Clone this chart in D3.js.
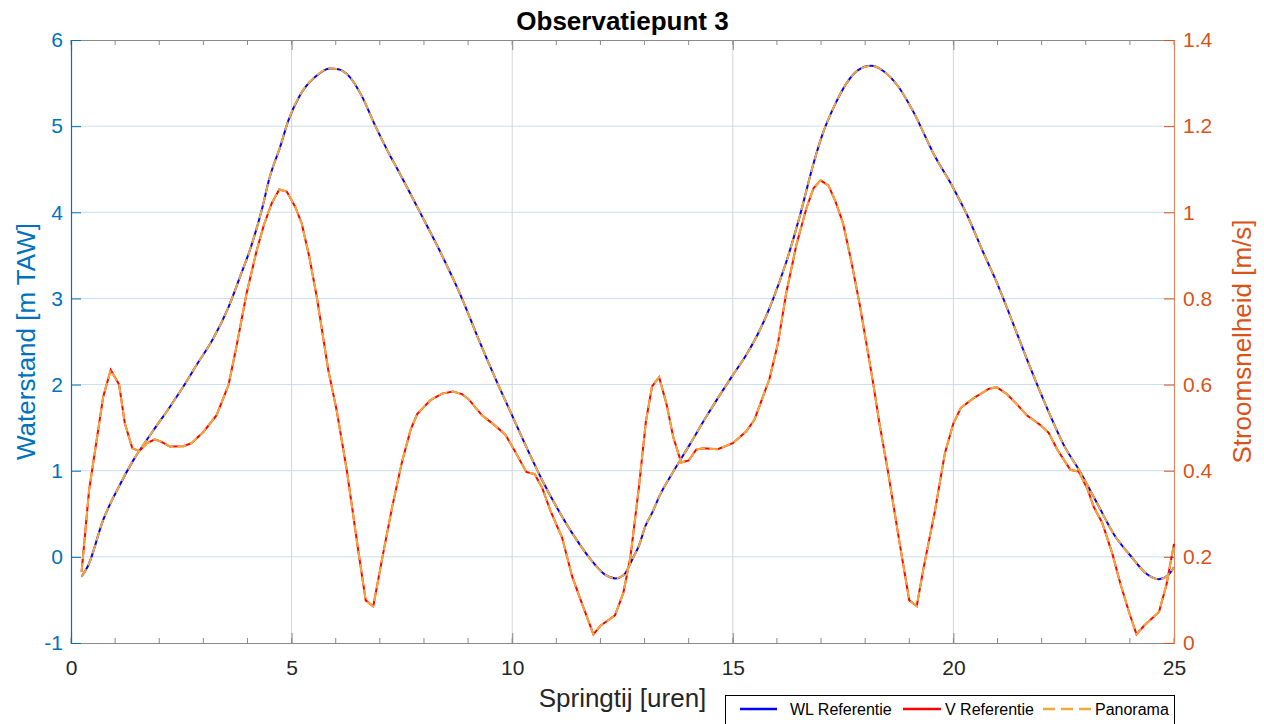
<!DOCTYPE html>
<html>
<head>
<meta charset="utf-8">
<script src="https://cdn.jsdelivr.net/npm/d3@7"></script>
<style>
  body { margin: 0; background: #fff; }
  text { font-family: "Liberation Sans", Arial, sans-serif; }
</style>
</head>
<body>
<script>
// waterstand (m TAW)
var wlTime = [0.24,0.39,0.73,1.07,1.41,1.87,2.24,2.55,2.85,3.23,3.57,3.83,4.08,4.32,4.50,4.74,4.93,5.19,5.53,5.87,6.06,6.32,6.58,6.90,7.23,7.40,7.92,8.38,8.87,9.21,9.62,10.0,10.38,10.68,11.06,11.43,11.81,12.11,12.34,12.53,12.72,12.88,13.02,13.18,13.35,13.64,14.02,14.39,14.77,15.0,15.30,15.61,15.91,16.21,16.52,16.82,17.05,17.27,17.58,17.84,18.14,18.41,18.75,19.10,19.55,20.0,20.30,20.68,20.98,21.36,21.74,22.12,22.50,22.88,23.26,23.64,24.02,24.36,24.66,24.85,25.0];
var wlLevel = [-0.23,-0.10,0.43,0.80,1.12,1.47,1.74,1.98,2.23,2.54,2.90,3.25,3.60,4.02,4.40,4.76,5.07,5.36,5.57,5.67,5.66,5.57,5.36,5.00,4.66,4.50,3.99,3.53,2.99,2.56,2.07,1.64,1.21,0.89,0.53,0.22,-0.05,-0.21,-0.25,-0.21,-0.03,0.14,0.36,0.52,0.72,0.98,1.30,1.62,1.93,2.11,2.34,2.63,2.99,3.42,3.96,4.55,4.93,5.20,5.50,5.65,5.70,5.64,5.46,5.16,4.68,4.28,3.98,3.53,3.19,2.70,2.20,1.73,1.30,0.98,0.62,0.26,0.01,-0.19,-0.26,-0.22,-0.12];

// stroomsnelheid (m/s)
var vTime = [0.24,0.41,0.73,0.90,1.09,1.22,1.39,1.55,1.73,1.90,2.05,2.24,2.55,2.73,3.0,3.30,3.57,3.75,3.98,4.21,4.37,4.55,4.72,4.89,5.08,5.23,5.40,5.57,5.83,6.02,6.25,6.51,6.68,6.85,7.06,7.28,7.51,7.70,7.85,8.15,8.41,8.66,8.86,9.01,9.32,9.55,9.85,10.08,10.32,10.51,10.68,10.87,11.13,11.36,11.55,11.84,12.0,12.33,12.52,12.68,12.87,13.03,13.17,13.33,13.50,13.65,13.83,14.0,14.17,14.33,14.66,15.0,15.30,15.49,15.83,16.02,16.21,16.44,16.67,16.83,16.99,17.17,17.33,17.50,17.69,17.88,18.18,18.33,18.52,18.79,19.0,19.17,19.32,19.58,19.81,20.0,20.17,20.45,20.80,20.98,21.21,21.44,21.67,21.97,22.16,22.35,22.65,22.84,23.03,23.18,23.37,23.60,23.79,23.98,24.15,24.32,24.66,24.83,25.0];
var vSpeed = [0.165,0.355,0.572,0.634,0.60,0.51,0.452,0.446,0.464,0.473,0.467,0.456,0.457,0.464,0.49,0.529,0.599,0.688,0.812,0.912,0.970,1.021,1.053,1.048,1.013,0.974,0.897,0.804,0.634,0.541,0.402,0.215,0.099,0.085,0.20,0.316,0.424,0.496,0.532,0.564,0.579,0.584,0.578,0.566,0.528,0.510,0.483,0.442,0.397,0.392,0.36,0.306,0.245,0.154,0.10,0.02,0.04,0.064,0.117,0.20,0.36,0.514,0.596,0.617,0.554,0.478,0.419,0.424,0.449,0.452,0.45,0.464,0.491,0.518,0.613,0.694,0.812,0.924,1.01,1.056,1.074,1.062,1.024,0.974,0.884,0.784,0.604,0.506,0.396,0.226,0.099,0.086,0.172,0.306,0.442,0.51,0.546,0.568,0.59,0.594,0.578,0.554,0.528,0.506,0.488,0.45,0.402,0.398,0.36,0.316,0.28,0.208,0.136,0.072,0.02,0.04,0.072,0.136,0.23];

var xTicks = [0,5,10,15,20,25];
var xMinor = d3.range(0,26,1);
var leftTicks = [-1,0,1,2,3,4,5,6];
var rightTicks = [0,0.2,0.4,0.6,0.8,1,1.2,1.4];
var legendNames = ["WL Referentie","V Referentie","Panorama"];

var blueAx = "#0072bd", orangeAx = "#d95319", grey = "#262626";
var cWL = "#0000ff", cV = "#ff0000", cPan = "#f2a93b";

var W = 1264, H = 724;
var L = 71, R = 1174, T = 40, B = 643;

var svg = d3.select("body").append("svg").attr("width",W).attr("height",H);

var x = d3.scaleLinear().domain([0,25]).range([L,R]);
var yL = d3.scaleLinear().domain([-1,6]).range([B,T]);
var yR = d3.scaleLinear().domain([0,1.4]).range([B,T]);

// grid
svg.append("g").selectAll("line").data(leftTicks.slice(1,-1)).enter().append("line")
      .attr("x1",L).attr("x2",R)
      .attr("y1",function(d){ return yL(d); }).attr("y2",function(d){ return yL(d); })
      .attr("stroke","#c9def0").attr("stroke-width",1);
svg.append("g").selectAll("line").data(xTicks.slice(1,-1)).enter().append("line")
      .attr("x1",function(d){ return x(d); }).attr("x2",function(d){ return x(d); })
      .attr("y1",T).attr("y2",B)
      .attr("stroke","#d4d4d4").attr("stroke-width",1);

// x axis bottom + top
var xb = svg.append("g").attr("transform","translate(0,"+B+")")
      .call(d3.axisBottom(x).tickValues(xTicks).tickSize(-10).tickPadding(17).tickFormat(function(d){ return String(d); }));
var xt = svg.append("g").attr("transform","translate(0,"+T+")")
      .call(d3.axisTop(x).tickValues(xTicks).tickSize(-10).tickFormat(""));
[xb,xt].forEach(function(g){
  g.select(".domain").attr("stroke","#8a8a8a").attr("stroke-width",1.2);
  g.selectAll(".tick line").attr("stroke","#8a8a8a");
});
xb.selectAll("text").attr("fill",grey).attr("font-size",21);
svg.append("g").selectAll("line").data(xMinor).enter().append("line")
      .attr("x1",function(d){ return x(d); }).attr("x2",function(d){ return x(d); })
      .attr("y1",B).attr("y2",B-5).attr("stroke","#8a8a8a");
svg.append("g").selectAll("line").data(xMinor).enter().append("line")
      .attr("x1",function(d){ return x(d); }).attr("x2",function(d){ return x(d); })
      .attr("y1",T).attr("y2",T+5).attr("stroke","#8a8a8a");

// left axis
var ya = svg.append("g").attr("transform","translate("+L+",0)")
      .call(d3.axisLeft(yL).tickValues(leftTicks).tickSize(-10).tickPadding(8).tickFormat(function(d){ return String(d); }));
ya.select(".domain").attr("stroke",blueAx).attr("stroke-width",1.2);
ya.selectAll(".tick line").attr("stroke",blueAx);
ya.selectAll("text").attr("fill",blueAx).attr("font-size",21);

// right axis
var yb = svg.append("g").attr("transform","translate("+R+",0)")
      .call(d3.axisRight(yR).tickValues(rightTicks).tickSize(-10).tickPadding(9).tickFormat(function(d){ return String(+d.toFixed(1)); }));
yb.select(".domain").attr("stroke","#d98a60").attr("stroke-width",1.2);
yb.selectAll(".tick line").attr("stroke",orangeAx);
yb.selectAll("text").attr("fill",orangeAx).attr("font-size",21);

// lines (waterstand is smooth in the original, snelheid has kinks)
var lineWL = d3.line().curve(d3.curveMonotoneX).x(function(d,i){ return x(wlTime[i]); }).y(function(d){ return yL(d); });
var lineV = d3.line().x(function(d,i){ return x(vTime[i]); }).y(function(d){ return yR(d); });

svg.append("path").datum(wlLevel).attr("d",lineWL).attr("fill","none").attr("stroke",cWL).attr("stroke-width",2);
svg.append("path").datum(vSpeed).attr("d",lineV).attr("fill","none").attr("stroke",cV).attr("stroke-width",2);
// panorama (dashed, on top of both)
svg.append("path").datum(wlLevel).attr("d",lineWL).attr("fill","none").attr("stroke",cPan).attr("stroke-width",2).attr("stroke-dasharray","9,4");
svg.append("path").datum(vSpeed).attr("d",lineV).attr("fill","none").attr("stroke",cPan).attr("stroke-width",2).attr("stroke-dasharray","9,4");

// titles
svg.append("text").text("Observatiepunt 3")
      .attr("x",(L+R)/2).attr("y",30)
      .attr("text-anchor","middle").attr("font-size",26).attr("font-weight","bold").attr("fill","#000");
svg.append("text").text("Springtij [uren]")
      .attr("x",(L+R)/2).attr("y",707)
      .attr("text-anchor","middle").attr("font-size",26).attr("fill",grey);
svg.append("text").text("Waterstand [m TAW]")
      .attr("transform","translate(35,"+(T+B)/2+") rotate(-90)")
      .attr("text-anchor","middle").attr("font-size",26).attr("fill",blueAx);
svg.append("text").text("Stroomsnelheid [m/s]")
      .attr("transform","translate(1251,"+(T+B)/2+") rotate(-90)")
      .attr("text-anchor","middle").attr("font-size",26).attr("fill",orangeAx);

// legend
var lg = svg.append("g");
lg.append("rect").attr("x",725.5).attr("y",695.5).attr("width",449).attr("height",34)
      .attr("fill","#fff").attr("stroke","#000").attr("stroke-width",1);
var legX = [740,903,1043];
var legW = [37,38,48];
var legC = [cWL,cV,cPan];
legendNames.forEach(function(n,i){
  lg.append("line").attr("x1",legX[i]).attr("x2",legX[i]+legW[i]).attr("y1",709).attr("y2",709)
      .attr("stroke",legC[i]).attr("stroke-width",2.5)
      .attr("stroke-dasharray", i==2 ? "12,6" : null);
  lg.append("text").text(n).attr("x",legX[i]+legW[i]+(i==0?13:4)).attr("y",715)
      .attr("font-size",16).attr("fill","#000");
});
</script>
</body>
</html>
